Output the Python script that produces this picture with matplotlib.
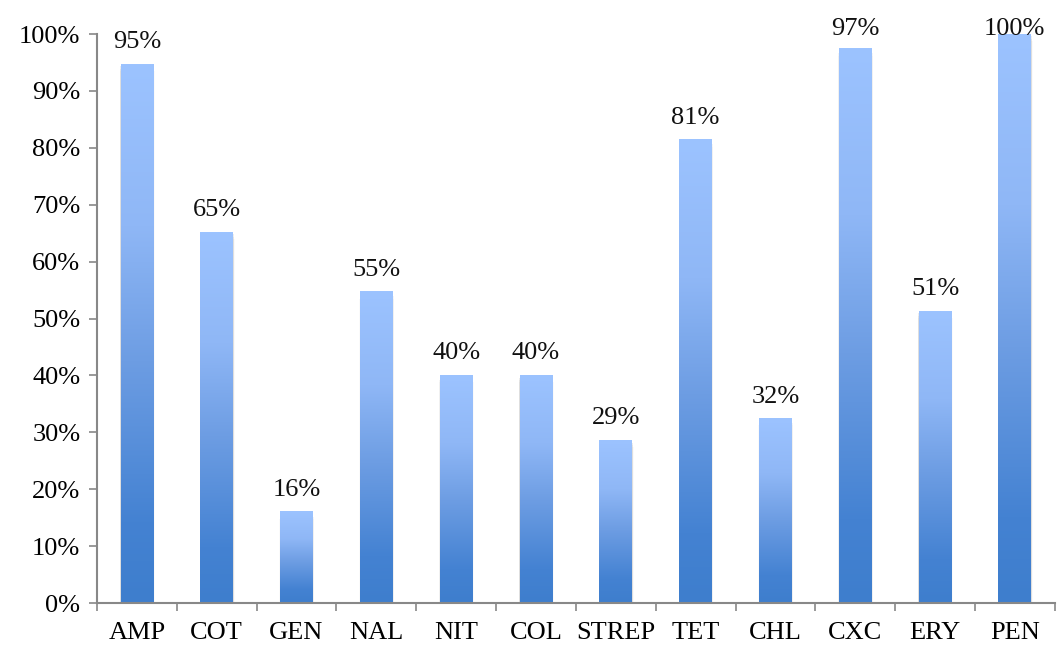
import numpy as np
import matplotlib
matplotlib.use("Agg")
import matplotlib.pyplot as plt
from matplotlib.colors import LinearSegmentedColormap
from matplotlib.ticker import PercentFormatter, FixedLocator

categories = ["AMP", "COT", "GEN", "NAL", "NIT", "COL", "STREP", "TET", "CHL", "CXC", "ERY", "PEN"]
resistance = [94.7, 65.2, 16.0, 54.7, 40.0, 40.0, 28.6, 81.4, 32.4, 97.4, 51.3, 100.0]
y_ticks = [0, 10, 20, 30, 40, 50, 60, 70, 80, 90, 100]

plt.rcParams["font.family"] = ["Liberation Serif", "DejaVu Serif"]

fig = plt.figure(figsize=(10.59, 6.47), dpi=100)
ax = fig.add_axes([0.0916, 0.068, 0.9044, 0.8794])

n = len(categories)
x = np.arange(n)
bar_w = 0.41
fs = 19
label_gap = 2.8      # data units between bar top and label baseline
label_ceiling = 99.8  # labels never rise above this baseline

# vertical gradient: dark at the base, light over the upper part
cmap = LinearSegmentedColormap.from_list(
    "bar_grad",
    [(0.0, "#3e7ecd"), (0.15, "#4482d2"), (0.45, "#6d9de3"), (0.7, "#8fb7f6"), (1.0, "#9cc3ff")])
grad = np.linspace(0, 1, 256).reshape(-1, 1)

for xi, v in zip(x, resistance):
    # soft glow-like shadow around the bar
    for k, a in zip(range(1, 4), [0.07, 0.04, 0.02]):
        dx = 0.005 * k
        ax.add_patch(plt.Rectangle((xi - bar_w / 2 - dx * 0.6, 0), bar_w + dx * 1.8, v - 0.4 * k,
                                   facecolor="#000000", alpha=a, lw=0, zorder=1))
    ax.imshow(grad, cmap=cmap, origin="lower", aspect="auto",
              extent=(xi - bar_w / 2, xi + bar_w / 2, 0, v), zorder=2)
    ax.text(xi, min(v + label_gap, label_ceiling), f"{round(v)}%",
            ha="center", va="baseline", fontsize=fs, color="#111111",
            clip_on=False, zorder=4)

ax.set_xlim(-0.5, n - 0.5)
ax.set_ylim(0, 100)

ax.set_yticks(y_ticks)
ax.yaxis.set_major_formatter(PercentFormatter(decimals=0))
ax.set_xticks(x)
ax.set_xticklabels(categories)
ax.xaxis.set_minor_locator(FixedLocator(np.arange(-0.5, n, 1.0)))

ax.tick_params(axis="x", which="major", length=0, pad=14, labelsize=fs)
ax.tick_params(axis="x", which="minor", length=6, width=1.2, color="#888888", direction="out")
ax.tick_params(axis="y", length=6, width=1.2, color="#888888", labelsize=fs, pad=6)

for side in ["top", "right"]:
    ax.spines[side].set_visible(False)
for side in ["left", "bottom"]:
    ax.spines[side].set_color("#888888")
    ax.spines[side].set_linewidth(1.5)
    ax.spines[side].set_zorder(3)

fig.savefig("out.png", dpi=100)
